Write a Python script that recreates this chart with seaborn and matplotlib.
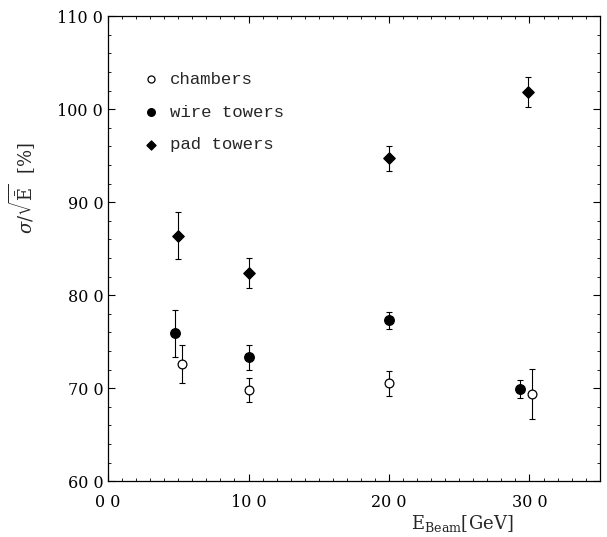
import numpy as np
import pandas as pd
import matplotlib
matplotlib.use("Agg")
import matplotlib.pyplot as plt
import seaborn as sns
from matplotlib.ticker import MultipleLocator, FixedLocator

# values
chambers_x = [5.3, 10.0, 20.0, 30.2]
chambers_y = [72.6, 69.8, 70.5, 69.4]
chambers_err = [2.0, 1.3, 1.3, 2.7]

wire_x = [4.8, 10.0, 20.0, 29.3]
wire_y = [75.9, 73.3, 77.3, 69.9]
wire_err = [2.5, 1.3, 0.9, 1.0]

pad_x = [5.0, 10.0, 20.0, 29.9]
pad_y = [86.4, 82.4, 94.7, 101.8]
pad_err = [2.5, 1.6, 1.3, 1.6]

x_ticks = [0, 10, 20, 30]
x_labels = ["0 0", "10 0", "20 0", "30 0"]
y_ticks = [60, 70, 80, 90, 100, 110]
y_labels = ["60 0", "70 0", "80 0", "90 0", "100 0", "110 0"]

series = [
    ("chambers", chambers_x, chambers_y, chambers_err, "o", "white", 40),
    ("wire towers", wire_x, wire_y, wire_err, "o", "black", 48),
    ("pad towers", pad_x, pad_y, pad_err, "D", "black", 34),
]

sns.set_style("ticks")
plt.rcParams["font.family"] = ["DejaVu Serif"]
plt.rcParams["mathtext.fontset"] = "dejavuserif"

fig = plt.figure(figsize=(6.07, 5.37), dpi=100)
ax = fig.add_axes([0.178, 0.104, 0.81, 0.866])

for name, xs, ys, errs, marker, face, size in series:
    ax.errorbar(xs, ys, yerr=errs, fmt="none", ecolor="black",
                elinewidth=0.8, capsize=2.5, capthick=0.8, zorder=2)
    df = pd.DataFrame({"x": xs, "y": ys})
    sns.scatterplot(data=df, x="x", y="y", marker=marker, color=face,
                    edgecolor="black", linewidth=0.9, s=size, ax=ax,
                    label=name, zorder=3)

ax.set_xlim(0, 35)
ax.set_ylim(60, 110)
ax.xaxis.set_major_locator(FixedLocator(x_ticks))
ax.set_xticklabels(x_labels)
ax.xaxis.set_minor_locator(MultipleLocator(1))
ax.yaxis.set_major_locator(FixedLocator(y_ticks))
ax.set_yticklabels(y_labels)
ax.yaxis.set_minor_locator(MultipleLocator(2))
ax.tick_params(which="both", direction="in", top=True, right=True,
               labelsize=11.5, colors="black")
ax.tick_params(which="major", length=5, width=0.8)
ax.tick_params(which="minor", length=2.5, width=0.6)
ax.tick_params(axis="x", pad=9)
for sp in ax.spines.values():
    sp.set_visible(True)
    sp.set_linewidth(0.9)
    sp.set_color("black")

ax.set_xlabel(r"E$_{\mathrm{Beam}}$[GeV]", fontsize=13)
ax.xaxis.set_label_coords(0.72, -0.068)
ax.set_ylabel(r"$\sigma/\sqrt{\bar{\mathrm{E}}}$  [%]", fontsize=13)
ax.yaxis.set_label_coords(-0.145, 0.63)

leg = ax.legend(loc="upper left", bbox_to_anchor=(0.038, 0.895), frameon=False,
                fontsize=12.5, handletextpad=0.1, labelspacing=1.0,
                markerscale=0.8, borderaxespad=0)
for t in leg.get_texts():
    t.set_family("Liberation Mono")

fig.savefig("out.png", dpi=100)
